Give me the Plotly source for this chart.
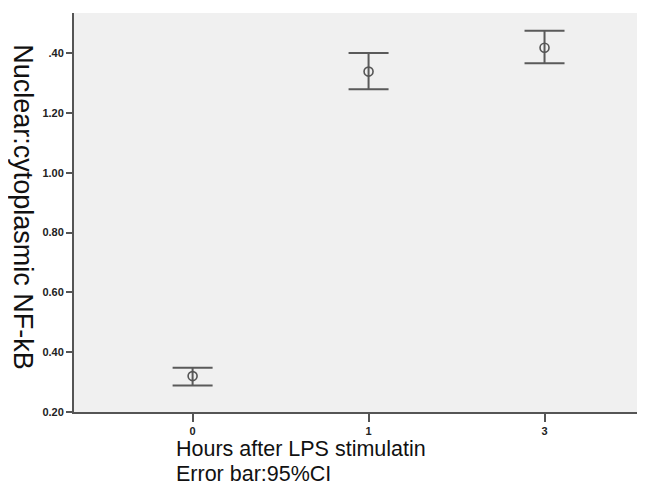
import plotly.graph_objects as go

hours = ["0", "1", "3"]
mean_ratio = [0.320, 1.338, 1.418]
ci_upper = [0.348, 1.400, 1.475]
ci_lower = [0.289, 1.279, 1.366]
y_tick_vals = [0.20, 0.40, 0.60, 0.80, 1.00, 1.20, 1.40]
y_tick_text = ["0.20", "0.40", "0.60", "0.80", "1.00", "1.20", ".40"]

err_plus = [u - m for u, m in zip(ci_upper, mean_ratio)]
err_minus = [m - l for m, l in zip(mean_ratio, ci_lower)]

fig = go.Figure()
fig.add_trace(go.Scatter(
    x=hours, y=mean_ratio, mode="markers",
    marker=dict(symbol="circle-open", size=9, color="#555555", line=dict(width=1.6, color="#555555")),
    error_y=dict(type="data", symmetric=False, array=err_plus, arrayminus=err_minus,
                 color="#5a5a5a", thickness=2, width=20),
    showlegend=False,
))

fig.update_layout(
    width=637, height=481,
    margin=dict(l=66, r=0, t=5, b=77),
    paper_bgcolor="white", plot_bgcolor="#f0f0f0",
    font=dict(family="Liberation Sans, Arial, sans-serif", color="#111111"),
    xaxis=dict(
        type="category", range=[-0.674, 2.571],
        showline=True, linecolor="#555555", linewidth=2,
        ticks="outside", ticklen=8, tickwidth=1.5, tickcolor="#555555",
        tickfont=dict(size=11, weight="bold", color="#222222"),
        showgrid=False, zeroline=False,
    ),
    yaxis=dict(
        range=[0.20, 1.534],
        tickvals=y_tick_vals, ticktext=y_tick_text,
        showline=True, linecolor="#555555", linewidth=2,
        ticks="outside", ticklen=6, tickwidth=1.5, tickcolor="#555555",
        tickfont=dict(size=11, weight="bold", color="#222222"),
        showgrid=False, zeroline=False,
    ),
    annotations=[
        dict(text="Hours after LPS stimulatin", xref="paper", yref="paper",
             x=0.1758, y=-0.0927, xanchor="left", yanchor="middle", showarrow=False,
             font=dict(size=21.5, color="#111111")),
        dict(text="Error bar:95%CI", xref="paper", yref="paper",
             x=0.1758, y=-0.155, xanchor="left", yanchor="middle", showarrow=False,
             font=dict(size=21.5, color="#111111")),
        dict(text="Nuclear:cytoplasmic NF-kB", xref="paper", yref="paper",
             x=-0.0888, y=0.5125, xanchor="center", yanchor="middle", showarrow=False,
             textangle=90, font=dict(size=27, color="#111111")),
    ],
)

fig.write_html("out.html")
